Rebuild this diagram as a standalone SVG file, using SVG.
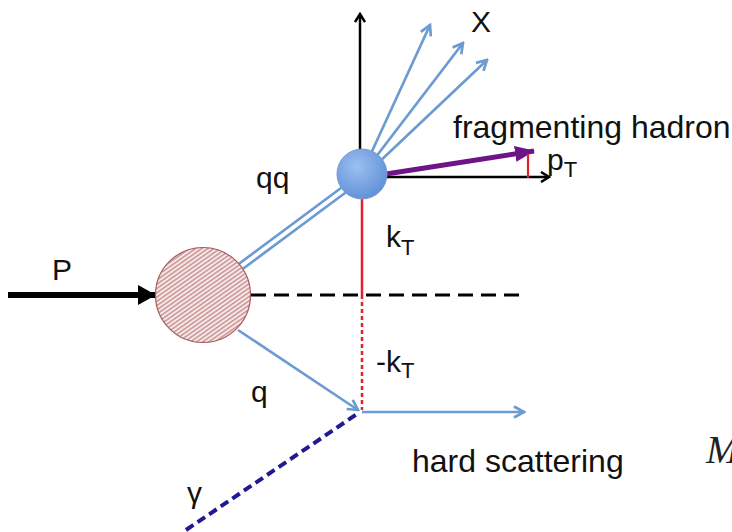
<svg xmlns="http://www.w3.org/2000/svg" width="732" height="532" viewBox="0 0 732 532">
<style>
.t{font-family:"Liberation Sans",Arial,sans-serif;fill:#111;font-size:30px}
.sub{font-size:22px}
.blue{stroke:#6c9bd1;stroke-width:2.7;fill:none}
.axis{stroke:#000;stroke-width:2.5;fill:none}
</style>
<defs>
<marker id="ab" viewBox="0 0 14 14" refX="12" refY="7" markerWidth="14" markerHeight="14" markerUnits="userSpaceOnUse" orient="auto">
<path d="M2,1.5 L12,7 L2,12.5" fill="none" stroke="#6c9bd1" stroke-width="2.7"/>
</marker>
<marker id="ak" viewBox="0 0 12 12" refX="10" refY="6" markerWidth="12" markerHeight="12" markerUnits="userSpaceOnUse" orient="auto">
<path d="M2,1 L10,6 L2,11" fill="none" stroke="#000" stroke-width="2.5"/>
</marker>
<marker id="ap" viewBox="0 0 20 16" refX="19" refY="8" markerWidth="20" markerHeight="16" markerUnits="userSpaceOnUse" orient="auto">
<path d="M0,0 L20,8 L0,16 Z" fill="#6c1488"/>
</marker>
<marker id="aP" viewBox="0 0 18 20" refX="17" refY="10" markerWidth="18" markerHeight="20" markerUnits="userSpaceOnUse" orient="auto">
<path d="M0,0 L18,10 L0,20 Z" fill="#000"/>
</marker>
<pattern id="hatch" width="3.5" height="3.5" patternUnits="userSpaceOnUse" patternTransform="rotate(-35)">
<rect width="3.5" height="3.5" fill="#f6e9e9"/>
<line x1="0" y1="0.8" x2="3.5" y2="0.8" stroke="#b36666" stroke-width="1"/>
</pattern>
<radialGradient id="gb" cx="0.4" cy="0.35" r="0.7">
<stop offset="0" stop-color="#9cc0f0"/>
<stop offset="1" stop-color="#5e8fd8"/>
</radialGradient>
</defs>
<g id="connectors">
<line x1="8" y1="295" x2="155" y2="295" stroke="#000" stroke-width="6" marker-end="url(#aP)"/>
<line x1="251" y1="295" x2="520" y2="295" stroke="#000" stroke-width="3" stroke-dasharray="15 8"/>
<line x1="362" y1="199" x2="362" y2="295" stroke="#e3202c" stroke-width="2.5"/>
<line x1="362" y1="295" x2="362" y2="410" stroke="#e3202c" stroke-width="2.5" stroke-dasharray="4 3"/>
<line x1="238" y1="264.5" x2="343" y2="186.5" class="blue"/>
<line x1="242" y1="269.5" x2="347" y2="191.5" class="blue"/>
<line x1="360" y1="150" x2="360" y2="14" class="axis" marker-end="url(#ak)"/>
<line x1="386" y1="177" x2="549" y2="177" class="axis" marker-end="url(#ak)"/>
<line x1="368" y1="160" x2="430" y2="25" class="blue" marker-end="url(#ab)"/>
<line x1="372" y1="162" x2="463" y2="43" class="blue" marker-end="url(#ab)"/>
<line x1="376" y1="165" x2="487" y2="60" class="blue" marker-end="url(#ab)"/>
<line x1="386" y1="174" x2="534" y2="151" stroke="#6c1488" stroke-width="5" marker-end="url(#ap)"/>
<line x1="528" y1="154" x2="528" y2="178" stroke="#e3202c" stroke-width="2.2"/>
<line x1="238" y1="330" x2="358" y2="410" class="blue" marker-end="url(#ab)"/>
<line x1="362" y1="412" x2="524" y2="412" class="blue" marker-end="url(#ab)"/>
<line x1="186" y1="530" x2="357" y2="414" stroke="#1f1a8f" stroke-width="4" stroke-dasharray="9 5"/>
</g>
<g id="proton">
<circle cx="203" cy="295" r="47.5" fill="url(#hatch)" stroke="#a85a5a" stroke-width="1.2"/>
</g>
<g id="fragment">
<circle cx="362" cy="174" r="25" fill="url(#gb)" stroke="#7a9ccc" stroke-width="1"/>
</g>
<g id="labels">
<text class="t" x="52" y="280">P</text>
<text class="t" x="471" y="32" font-size="33">X</text>
<text class="t" x="453" y="138" style="font-size:32px">fragmenting hadron</text>
<text class="t" x="547" y="170">p<tspan class="sub" dy="7">T</tspan></text>
<text class="t" x="256" y="188">qq</text>
<text class="t" x="386" y="247">k<tspan class="sub" dy="8">T</tspan></text>
<text class="t" x="376" y="372">-k<tspan class="sub" dy="6">T</tspan></text>
<text class="t" x="251" y="402">q</text>
<text class="t" x="412" y="472" style="font-size:32px">hard scattering</text>
<text class="t" x="187" y="503">γ</text>
<text x="706" y="463" font-family="Liberation Serif,serif" font-style="italic" font-size="40" fill="#222">M</text>
</g>
</svg>
